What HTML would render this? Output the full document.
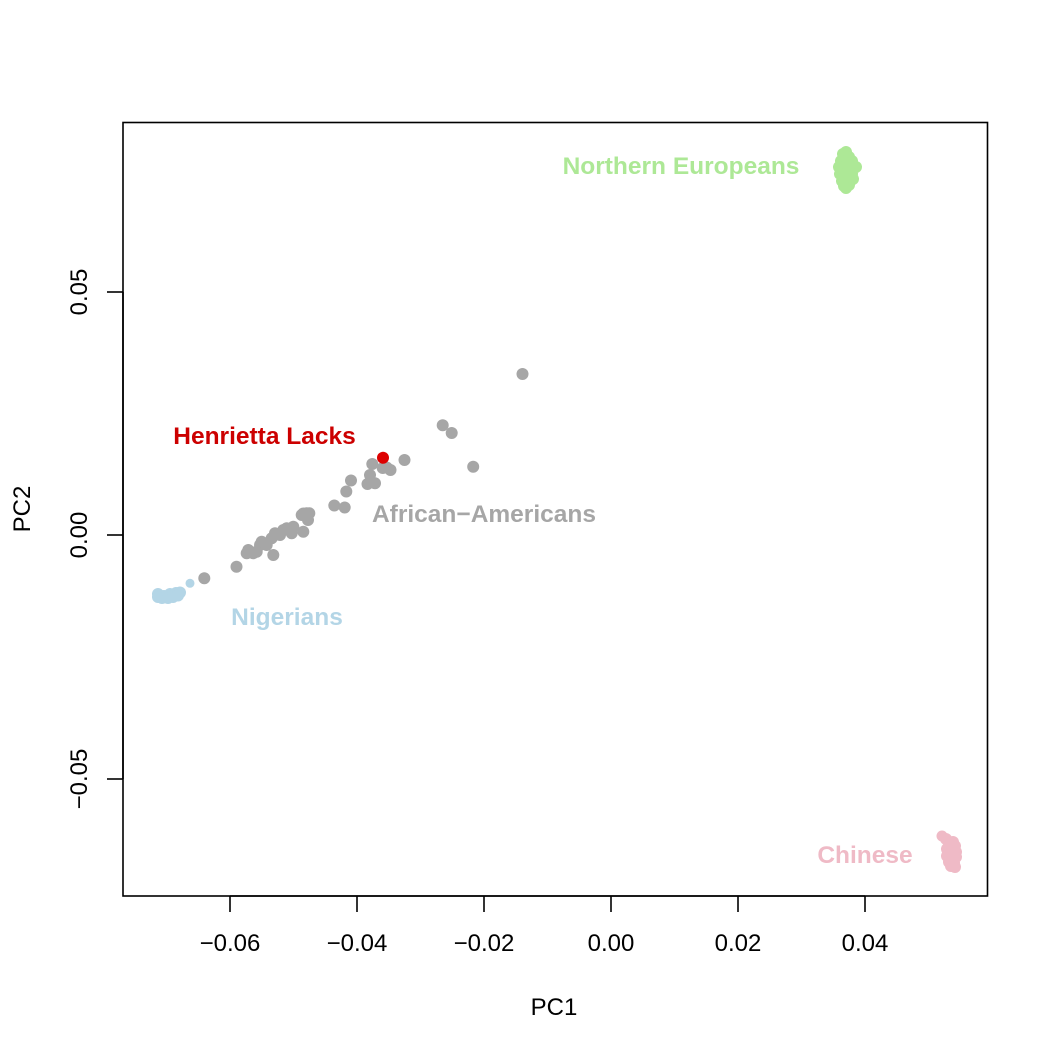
<!DOCTYPE html>
<html><head><meta charset="utf-8"><style>
html,body{margin:0;padding:0;background:#fff;}
svg{display:block;}
text{font-family:"Liberation Sans",Arial,sans-serif;}
</style></head><body>
<svg width="1050" height="1050" viewBox="0 0 1050 1050" xmlns="http://www.w3.org/2000/svg">
<rect width="1050" height="1050" fill="#fff"/>
<!-- box -->
<rect x="123" y="122.5" width="864.5" height="773.5" fill="none" stroke="#000" stroke-width="1.6"/>
<!-- x ticks -->
<g stroke="#000" stroke-width="1.6">
<line x1="230" y1="896" x2="865" y2="896"/>
<line x1="230" y1="896" x2="230" y2="912"/>
<line x1="357" y1="896" x2="357" y2="912"/>
<line x1="484" y1="896" x2="484" y2="912"/>
<line x1="611" y1="896" x2="611" y2="912"/>
<line x1="738" y1="896" x2="738" y2="912"/>
<line x1="865" y1="896" x2="865" y2="912"/>
<line x1="123" y1="292" x2="123" y2="779"/>
<line x1="107" y1="292" x2="123" y2="292"/>
<line x1="107" y1="535" x2="123" y2="535"/>
<line x1="107" y1="779" x2="123" y2="779"/>
</g>
<g font-size="24" fill="#000" text-anchor="middle">
<text x="230" y="951">−0.06</text>
<text x="357" y="951">−0.04</text>
<text x="484" y="951">−0.02</text>
<text x="611" y="951">0.00</text>
<text x="738" y="951">0.02</text>
<text x="865" y="951">0.04</text>
<text transform="translate(87,292) rotate(-90)">0.05</text>
<text transform="translate(87,535) rotate(-90)">0.00</text>
<text transform="translate(87,779) rotate(-90)">−0.05</text>
<text x="554" y="1015">PC1</text>
<text transform="translate(30,509) rotate(-90)">PC2</text>
</g>
<!-- gray points -->
<g fill="#a6a6a6">
<circle cx="522.5" cy="374" r="6"/>
<circle cx="442.7" cy="425.3" r="6"/>
<circle cx="451.7" cy="433" r="6"/>
<circle cx="473.2" cy="466.7" r="6"/>
<circle cx="404.5" cy="460" r="6"/>
<circle cx="372.3" cy="464" r="6"/>
<circle cx="382.7" cy="468" r="6"/>
<circle cx="386.7" cy="467.5" r="6"/>
<circle cx="390.5" cy="470" r="6"/>
<circle cx="370" cy="475" r="6"/>
<circle cx="351" cy="480.5" r="6"/>
<circle cx="367.5" cy="484" r="6"/>
<circle cx="375" cy="483.3" r="6"/>
<circle cx="346.3" cy="491.5" r="6"/>
<circle cx="334.3" cy="505.5" r="6"/>
<circle cx="344.7" cy="507.5" r="6"/>
<circle cx="303.3" cy="513.5" r="6"/>
<circle cx="306.7" cy="513.3" r="6"/>
<circle cx="309.3" cy="513.3" r="6"/>
<circle cx="301.7" cy="515" r="6"/>
<circle cx="308" cy="520" r="6"/>
<circle cx="303.3" cy="531.7" r="6"/>
<circle cx="293.3" cy="526.7" r="6"/>
<circle cx="286.7" cy="528.3" r="6"/>
<circle cx="291.7" cy="533.3" r="6"/>
<circle cx="283.3" cy="530" r="6"/>
<circle cx="275" cy="533.3" r="6"/>
<circle cx="271.7" cy="538.3" r="6"/>
<circle cx="280" cy="535" r="6"/>
<circle cx="261.7" cy="541.7" r="6"/>
<circle cx="260" cy="545" r="6"/>
<circle cx="266.7" cy="545" r="6"/>
<circle cx="273.3" cy="555" r="6"/>
<circle cx="248.3" cy="550" r="6"/>
<circle cx="246.7" cy="553.3" r="6"/>
<circle cx="253.3" cy="553.3" r="6"/>
<circle cx="256.7" cy="551.7" r="6"/>
<circle cx="236.5" cy="566.7" r="6"/>
<circle cx="204.3" cy="578.3" r="6"/>
</g>
<circle cx="383" cy="457.8" r="6" fill="#dd0000"/>
<!-- blue -->
<g fill="#b3d5e6">
<circle cx="190" cy="583.3" r="4.5"/>
<circle cx="158" cy="594" r="6"/>
<circle cx="158" cy="597" r="6"/>
<circle cx="164" cy="596" r="6"/>
<circle cx="170" cy="594" r="6"/>
<circle cx="176" cy="593" r="6"/>
<circle cx="180" cy="592.5" r="6"/>
<circle cx="162" cy="598" r="6"/>
<circle cx="168" cy="598" r="6"/>
<circle cx="173" cy="597" r="6"/>
<circle cx="178" cy="595.5" r="6"/>
</g>
<!-- green -->
<g fill="#ade896">
<circle cx="843" cy="154" r="6"/>
<circle cx="846" cy="152" r="6"/>
<circle cx="849" cy="157" r="6"/>
<circle cx="841" cy="161" r="6"/>
<circle cx="847" cy="162" r="6"/>
<circle cx="852" cy="161" r="6"/>
<circle cx="839" cy="167" r="6"/>
<circle cx="845" cy="168" r="6"/>
<circle cx="851" cy="167" r="6"/>
<circle cx="856" cy="167" r="6"/>
<circle cx="840" cy="174" r="6"/>
<circle cx="846" cy="175" r="6"/>
<circle cx="852" cy="174" r="6"/>
<circle cx="842" cy="181" r="6"/>
<circle cx="848" cy="180" r="6"/>
<circle cx="853" cy="179" r="6"/>
<circle cx="844" cy="186" r="6"/>
<circle cx="849" cy="185" r="6"/>
<circle cx="846" cy="188" r="6"/>
</g>
<!-- pink -->
<g fill="#efbac6">
<circle cx="942" cy="836" r="5.5"/>
<circle cx="946" cy="839" r="6"/>
<circle cx="949" cy="843" r="6"/>
<circle cx="953" cy="842" r="6"/>
<circle cx="955" cy="846" r="6"/>
<circle cx="947" cy="849" r="6"/>
<circle cx="951" cy="850" r="6"/>
<circle cx="956" cy="852" r="6"/>
<circle cx="947" cy="856" r="6"/>
<circle cx="952" cy="857" r="6"/>
<circle cx="956" cy="857" r="6"/>
<circle cx="949" cy="862" r="6"/>
<circle cx="954" cy="863" r="6"/>
<circle cx="951" cy="866" r="6"/>
<circle cx="955" cy="867" r="6"/>
</g>
<!-- labels -->
<g font-size="24.5" font-weight="bold" text-anchor="middle">
<text x="681" y="174" fill="#ade896">Northern Europeans</text>
<text x="264.5" y="444" fill="#cc0000">Henrietta Lacks</text>
<text x="484" y="522" fill="#a6a6a6">African−Americans</text>
<text x="287" y="625" fill="#b3d5e6">Nigerians</text>
<text x="865" y="863" fill="#efbac6">Chinese</text>
</g>
</svg>
</body></html>
